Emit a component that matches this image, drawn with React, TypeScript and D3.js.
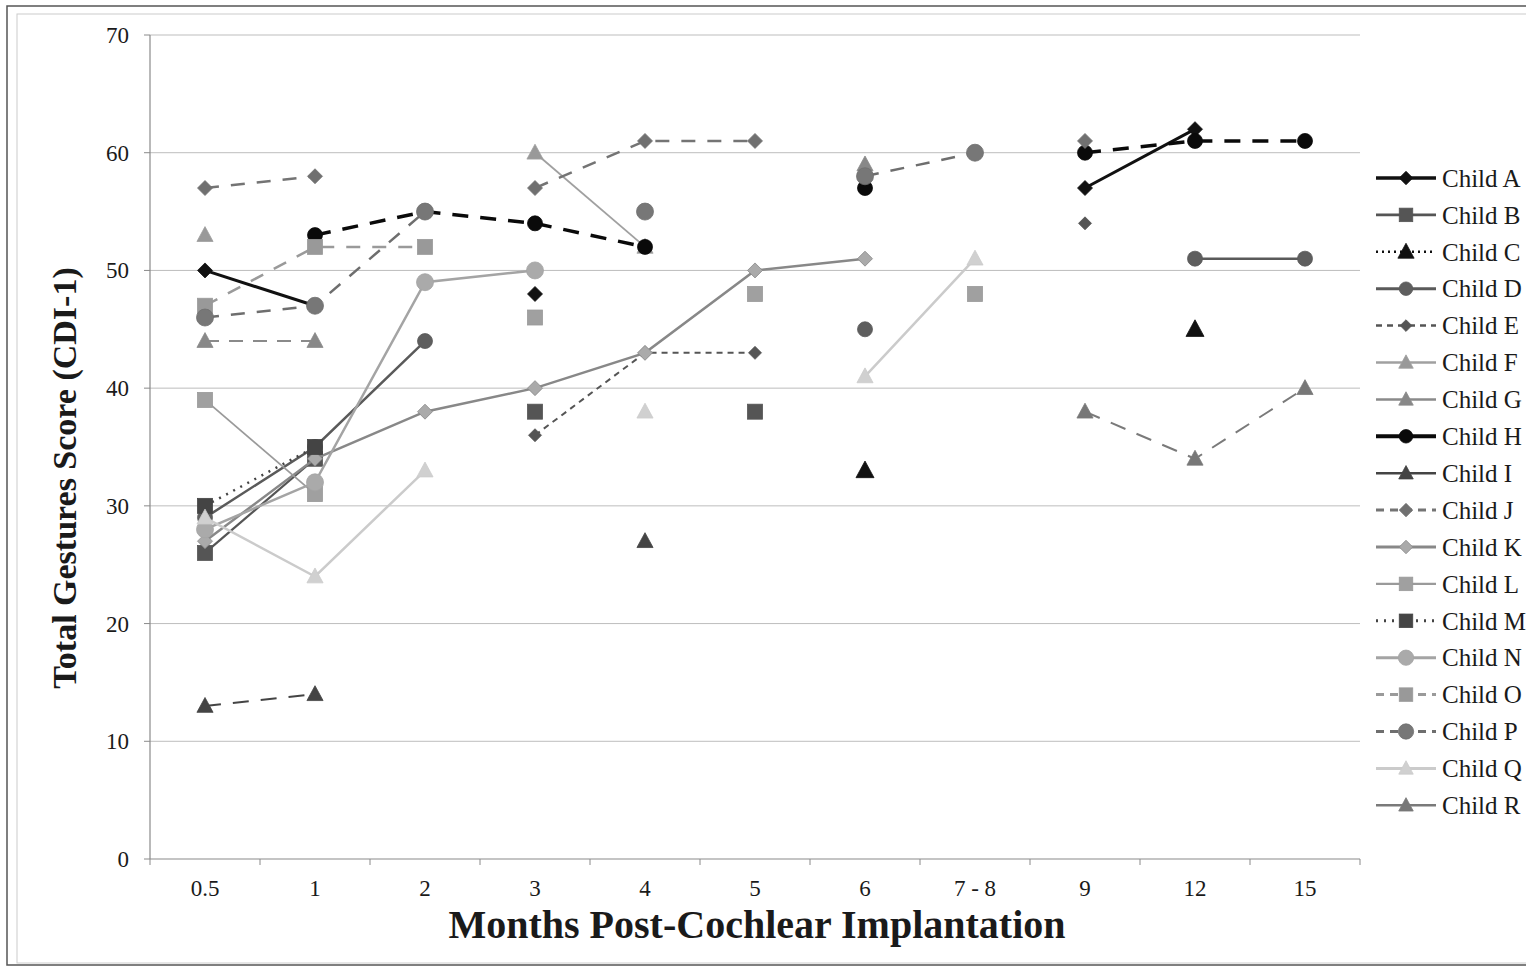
import React from "react";
import * as d3 from "d3";

const categories = ["0.5", "1", "2", "3", "4", "5", "6", "7 - 8", "9", "12", "15"];
const yTicks = [0, 10, 20, 30, 40, 50, 60, 70];
const childNames = ["Child A","Child B","Child C","Child D","Child E","Child F","Child G","Child H","Child I","Child J","Child K","Child L","Child M","Child N","Child O","Child P","Child Q","Child R"];

type V = number | null;
const _ = null;
const childA: V[] = [50, 47, _, 48, _, _, _, _, 57, 62, _];
const childB: V[] = [26, 34, _, 38, _, 38, _, _, _, _, _];
const childC: V[] = [_, _, _, _, _, _, 33, _, _, 45, _];
const childD: V[] = [29, 35, 44, _, _, _, 45, _, _, 51, 51];
const childE: V[] = [_, _, _, 36, 43, 43, _, _, 54, _, _];
const childF: V[] = [53, _, _, 60, 52, _, _, _, _, _, _];
const childG: V[] = [44, 44, _, _, _, _, 59, _, _, _, _];
const childH: V[] = [_, 53, 55, 54, 52, _, 57, _, 60, 61, 61];
const childI: V[] = [13, 14, _, _, 27, _, _, _, _, _, _];
const childJ: V[] = [57, 58, _, 57, 61, 61, _, _, 61, _, _];
const childK: V[] = [27, 34, 38, 40, 43, 50, 51, _, _, _, _];
const childL: V[] = [39, 31, _, 46, _, 48, _, 48, _, _, _];
const childM: V[] = [30, 35, _, _, _, _, _, _, _, _, _];
const childN: V[] = [28, 32, 49, 50, _, _, _, _, _, _, _];
const childO: V[] = [47, 52, 52, _, _, _, _, _, _, _, _];
const childP: V[] = [46, 47, 55, _, 55, _, 58, 60, _, _, _];
const childQ: V[] = [29, 24, 33, _, 38, _, 41, 51, _, _, _];
const childR: V[] = [_, _, _, _, _, _, _, _, 38, 34, 40];

const seriesValues = [childA, childB, childC, childD, childE, childF, childG, childH, childI, childJ, childK, childL, childM, childN, childO, childP, childQ, childR];

type Style = { stroke: string; fill: string; width: number; dash: string; legendDash: string; marker: string; size: number };
const styles: Style[] = [
  { stroke: "#111", fill: "#111", width: 3, dash: "", legendDash: "", marker: "diamond", size: 7.5 },
  { stroke: "#555", fill: "#555", width: 2.2, dash: "", legendDash: "", marker: "square", size: 7.5 },
  { stroke: "#111", fill: "#111", width: 2, dash: "2 4", legendDash: "2 4", marker: "triangle", size: 9.5 },
  { stroke: "#5a5a5a", fill: "#5e5e5e", width: 2.5, dash: "", legendDash: "", marker: "circle", size: 7.5 },
  { stroke: "#555", fill: "#555", width: 2, dash: "6 5", legendDash: "6 5", marker: "diamond", size: 6.5 },
  { stroke: "#a0a0a0", fill: "#999", width: 1.8, dash: "", legendDash: "", marker: "triangle", size: 8.5 },
  { stroke: "#8a8a8a", fill: "#888", width: 2, dash: "14 10", legendDash: "", marker: "triangle", size: 8.5 },
  { stroke: "#0a0a0a", fill: "#0a0a0a", width: 3.5, dash: "16 12", legendDash: "", marker: "circle", size: 7.5 },
  { stroke: "#444", fill: "#444", width: 2, dash: "16 12", legendDash: "", marker: "triangle", size: 8.5 },
  { stroke: "#747474", fill: "#707070", width: 2.5, dash: "14 12", legendDash: "8 6", marker: "diamond", size: 7.5 },
  { stroke: "#888", fill: "#aaa", width: 2.5, dash: "", legendDash: "", marker: "diamond", size: 7.5 },
  { stroke: "#9a9a9a", fill: "#a0a0a0", width: 1.8, dash: "", legendDash: "", marker: "square", size: 7.5 },
  { stroke: "#444", fill: "#444", width: 2.5, dash: "2 6", legendDash: "2 6", marker: "square", size: 7.5 },
  { stroke: "#a4a4a4", fill: "#aaa", width: 2.5, dash: "", legendDash: "", marker: "circle", size: 8.5 },
  { stroke: "#9a9a9a", fill: "#999", width: 2.5, dash: "14 12", legendDash: "8 6", marker: "square", size: 7.5 },
  { stroke: "#6e6e6e", fill: "#777", width: 2.5, dash: "14 12", legendDash: "8 6", marker: "circle", size: 8.5 },
  { stroke: "#cbcbcb", fill: "#d0d0d0", width: 2.5, dash: "", legendDash: "", marker: "triangle", size: 8.5 },
  { stroke: "#7a7a7a", fill: "#777", width: 2, dash: "16 12", legendDash: "", marker: "triangle", size: 8.5 },
];

const FONT = "'Liberation Serif', 'Times New Roman', serif";

function Marker({ type, x, y, s, fill, stroke }: { type: string; x: number; y: number; s: number; fill: string; stroke: string }) {
  if (type === "circle") return <circle cx={x} cy={y} r={s} fill={fill} stroke={stroke} strokeWidth={0.8} />;
  if (type === "square") return <rect x={x - s} y={y - s} width={2 * s} height={2 * s} fill={fill} stroke={stroke} strokeWidth={0.8} />;
  if (type === "diamond") return <path d={`M${x},${y - s}L${x + s},${y}L${x},${y + s}L${x - s},${y}Z`} fill={fill} stroke={stroke} strokeWidth={0.8} />;
  return <path d={`M${x},${y - s}L${x + s * 0.95},${y + s * 0.75}L${x - s * 0.95},${y + s * 0.75}Z`} fill={fill} stroke={stroke} strokeWidth={0.8} />;
}

export default function App() {
  const W = 1526, H = 970;
  const left = 150, right = 1360, top = 35, bottom = 859;
  const x = d3.scaleBand<string>().domain(categories).range([left, right]);
  const cx = (c: string) => (x(c) as number) + x.bandwidth() / 2;
  const y = d3.scaleLinear().domain([0, 70]).range([bottom, top]);
  const line = d3.line<V>()
    .defined((d) => d != null)
    .x((_d, i) => cx(categories[i]))
    .y((d) => y(d as number));
  const tickXs = categories.map((c) => x(c) as number).concat([right]);

  const legX = 1376, legY0 = 178, legStep = 36.9;

  return (
    <svg width={W} height={H} style={{ position: "absolute", left: 0, top: 0, background: "#fff" }} fontFamily={FONT}>
      <rect x={0} y={0} width={W} height={H} fill="#fff" />
      <rect x={7} y={6} width={W + 20} height={959} fill="none" stroke="#555" strokeWidth={1.5} />
      <rect x={17} y={14} width={W + 20} height={949} fill="none" stroke="#ccc" strokeWidth={1} />
      {yTicks.filter((t) => t > 0).map((t) => (
        <line key={t} x1={left} x2={right} y1={y(t)} y2={y(t)} stroke="#bdbdbd" strokeWidth={1} />
      ))}
      <line x1={left} x2={left} y1={top} y2={bottom} stroke="#8a8a8a" strokeWidth={1.2} />
      <line x1={left} x2={right} y1={bottom} y2={bottom} stroke="#8a8a8a" strokeWidth={1.2} />
      {yTicks.map((t) => (
        <g key={t}>
          <line x1={left - 6} x2={left} y1={y(t)} y2={y(t)} stroke="#8a8a8a" />
          <text x={129} y={y(t)} dy="0.35em" textAnchor="end" fontSize={23} fill="#1a1a1a">{t}</text>
        </g>
      ))}
      {tickXs.map((tx, i) => (
        <line key={i} x1={tx} x2={tx} y1={bottom} y2={bottom + 6} stroke="#8a8a8a" />
      ))}
      {categories.map((c) => (
        <text key={c} x={cx(c)} y={896} textAnchor="middle" fontSize={23} fill="#1a1a1a">{c}</text>
      ))}
      <text x={757} y={938} textAnchor="middle" fontSize={40} fontWeight="bold" fill="#1a1a1a">Months Post-Cochlear Implantation</text>
      <text transform={`translate(76,${(top + bottom) / 2 + 31}) rotate(-90)`} textAnchor="middle" fontSize={34} fontWeight="bold" fill="#1a1a1a">Total Gestures Score (CDI-1)</text>
      {seriesValues.map((vals, si) => {
        const st = styles[si];
        return (
          <g key={si}>
            <path d={line(vals) || ""} fill="none" stroke={st.stroke} strokeWidth={st.width} strokeDasharray={st.dash || undefined} />
            {vals.map((v, i) => v == null ? null : (
              <Marker key={i} type={st.marker} x={cx(categories[i])} y={y(v)} s={st.size} fill={st.fill} stroke={st.stroke} />
            ))}
          </g>
        );
      })}
      {childNames.map((n, i) => {
        const st = styles[i];
        const ly = legY0 + i * legStep;
        return (
          <g key={n}>
            <line x1={legX} x2={legX + 60} y1={ly} y2={ly} stroke={st.stroke} strokeWidth={st.width + 0.5} strokeDasharray={st.legendDash || undefined} />
            <Marker type={st.marker} x={legX + 30} y={ly} s={st.size * 0.9} fill={st.fill} stroke={st.stroke} />
            <text x={1442} y={ly} dy="0.35em" fontSize={25} fill="#1a1a1a">{n}</text>
          </g>
        );
      })}
    </svg>
  );
}
